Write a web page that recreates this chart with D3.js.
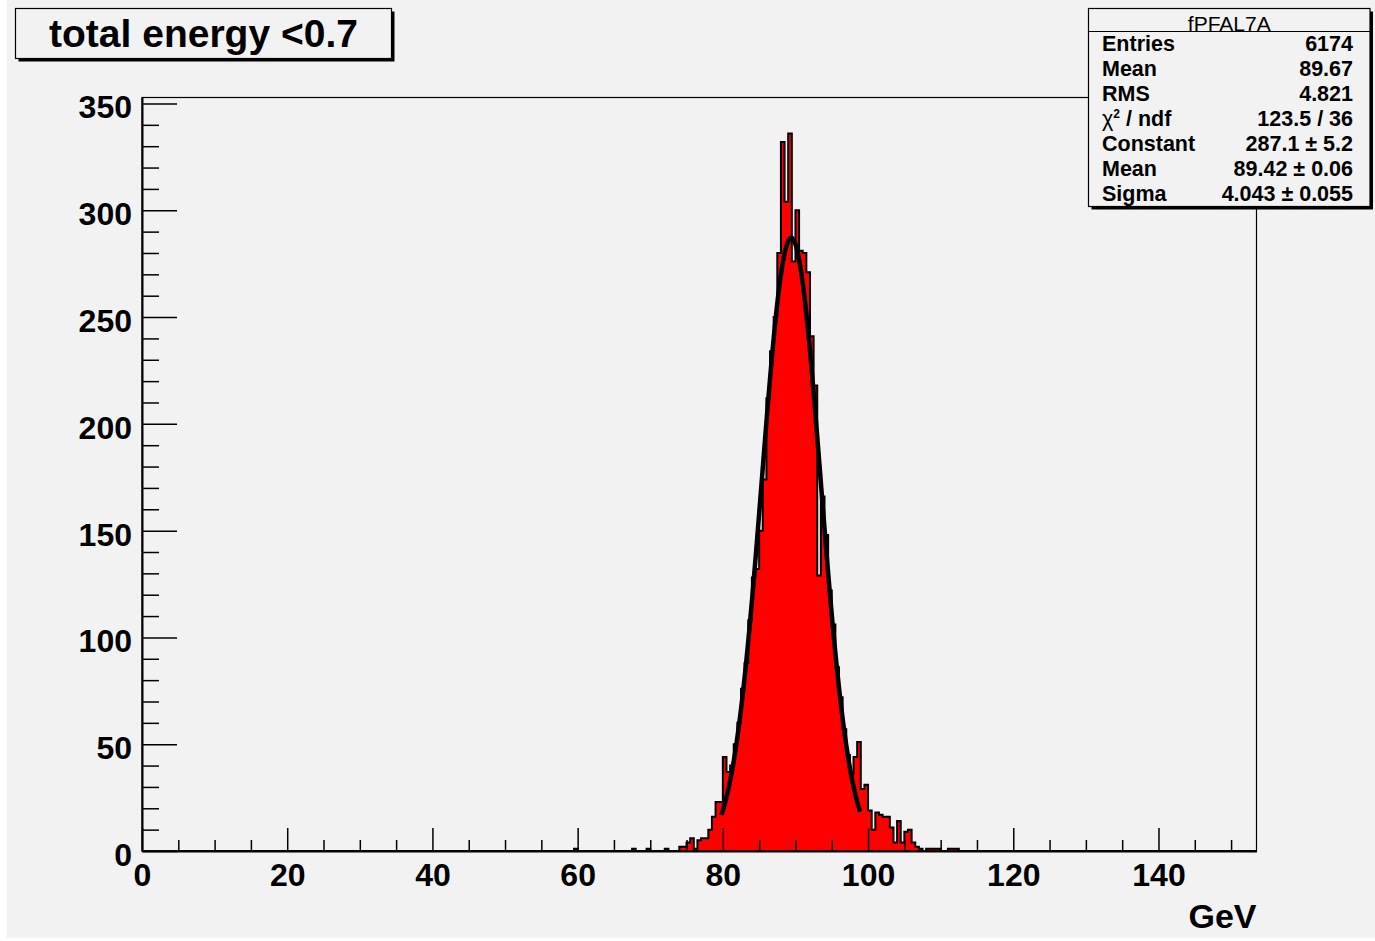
<!DOCTYPE html>
<html>
<head>
<meta charset="utf-8">
<script src="https://cdn.jsdelivr.net/npm/d3@7"></script>
<style>
  body { margin: 0; background: #ffffff; }
  text { font-family: "Liberation Sans", Arial, Helvetica, sans-serif; font-weight: bold; fill: #000; }
</style>
</head>
<body>
<svg id="chart" width="1375" height="941"></svg>
<script>
// ---------------- data ----------------
const titleText = "total energy <0.7";
const xAxisTitle = "GeV";
const xRange = [0, 153.5];
const binWidth = 0.5;
const firstBinLow = 59.5;
// bin contents for bins starting at 59.5, 60.0, 60.5, ... (width 0.5 GeV)
const counts = [
  1,                                   // 59.5
  0,0,0,0,0,0,0,0,0,0,0,0,0,0,0,       // 60.0 - 67.0
  1,                                   // 67.5
  0,0,0,                               // 68.0 - 69.0
  1,                                   // 69.5
  0,0,0,0,                             // 70.0 - 71.5
  1,                                   // 72.0
  0,0,0,                               // 72.5 - 73.5
  2,2,4,6,1,5,6,6,10,16,23,23,         // 74.0 - 79.5
  44,37,40,50,60,76,88,108,128,132,    // 80.0 - 84.5
  150,174,212,234,250,280,332,304,336,276, // 85.0 - 89.5
  300,281,280,271,241,218,129,166,148,122, // 90.0 - 94.5
  106,86,72,57,45,36,44,51,29,31,      // 95.0 - 99.5
  19,10,18,17,16,16,11,4,14,4,         // 100.0 - 104.5
  9,10,4,2,1,0,1,1,1,1,                // 105.0 - 109.5
  0,0,1,1,1                            // 110.0 - 112.0
];
const yMaxValue = 352.8;
const xMajorTicks = [0, 20, 40, 60, 80, 100, 120, 140];
const xMinorTicks = [5,10,15,25,30,35,45,50,55,65,70,75,85,90,95,105,110,115,125,130,135,145,150];
const yMajorTicks = [0, 50, 100, 150, 200, 250, 300, 350];
const yMinorTicks = [10,20,30,40,60,70,80,90,110,120,130,140,160,170,180,190,210,220,230,240,260,270,280,290,310,320,330,340];
// Gaussian fit (parameters shown in the stats box) and its range
const fitParams = { constant: 287.1, mean: 89.42, sigma: 4.043 };
const fitRange = [79.8, 98.9];
const statsTitle = "fPFAL7A";
const statsLabels = ["Entries", "Mean", "RMS", "CHI2", "Constant", "Mean", "Sigma"];
const statsValues = ["6174", "89.67", "4.821", "123.5 / 36", "287.1 \u00b1 5.2", "89.42 \u00b1 0.06", "4.043 \u00b1 0.055"];

// ---------------- layout ----------------
const W = 1375, H = 941;
const plot = { left: 142, right: 1256.5, top: 97.5, bottom: 851 };
const bg = "#f2f2f2";

const svg = d3.select("#chart");
svg.append("rect").attr("x", 7).attr("y", 0).attr("width", W - 7).attr("height", 938).attr("fill", bg);

const x = d3.scaleLinear().domain(xRange).range([plot.left, plot.right]);
const y = d3.scaleLinear().domain([0, yMaxValue]).range([plot.bottom, plot.top]);

// full bin list over the axis range
const nBins = Math.round((xRange[1] - xRange[0]) / binWidth);
const offset = Math.round((firstBinLow - xRange[0]) / binWidth);
const bins = d3.range(nBins).map(i => ({ lo: xRange[0] + i * binWidth, c: (i - offset >= 0 && i - offset < counts.length) ? counts[i - offset] : 0 }));
const stepPts = bins.concat([{ lo: xRange[1], c: bins[bins.length - 1].c }]);

// histogram fill
const area = d3.area().x(d => x(d.lo)).y0(y(0)).y1(d => y(d.c)).curve(d3.curveStepAfter);
svg.append("path").datum(stepPts).attr("d", area).attr("fill", "#ff0000");

// histogram outline
const line = d3.line().x(d => x(d.lo)).y(d => y(d.c)).curve(d3.curveStepAfter);
svg.append("path").datum(stepPts).attr("d", line).attr("fill", "none")
  .attr("stroke", "#000").attr("stroke-width", 2);

// fit curve
const gauss = v => fitParams.constant * Math.exp(-0.5 * Math.pow((v - fitParams.mean) / fitParams.sigma, 2));
const nFit = 100;
const fitPts = d3.range(nFit + 1).map(i => {
  const v = fitRange[0] + (fitRange[1] - fitRange[0]) * i / nFit;
  return [v, gauss(v)];
});
svg.append("path").datum(fitPts)
  .attr("d", d3.line().x(d => x(d[0])).y(d => y(d[1])))
  .attr("fill", "none").attr("stroke", "#000").attr("stroke-width", 4.5)
  .attr("stroke-linejoin", "round");

// frame
svg.append("rect").attr("x", plot.left).attr("y", plot.top)
  .attr("width", plot.right - plot.left).attr("height", plot.bottom - plot.top)
  .attr("fill", "none").attr("stroke", "#000").attr("stroke-width", 1.2);

// x axis
const gx = svg.append("g").attr("transform", `translate(0,${y(0)})`);
gx.call(d3.axisBottom(x).tickValues(xMajorTicks).tickSize(-23).tickSizeOuter(0).tickPadding(12).tickFormat(d3.format("d")));
const gxm = svg.append("g").attr("transform", `translate(0,${y(0)})`);
gxm.call(d3.axisBottom(x).tickValues(xMinorTicks).tickSize(-11).tickSizeOuter(0).tickFormat(""));
gxm.select(".domain").remove();

// y axis
const gy = svg.append("g").attr("transform", `translate(${x(0)},0)`);
gy.call(d3.axisLeft(y).tickValues(yMajorTicks).tickSize(-35).tickSizeOuter(0).tickPadding(10).tickFormat(d3.format("d")));
const gym = svg.append("g").attr("transform", `translate(${x(0)},0)`);
gym.call(d3.axisLeft(y).tickValues(yMinorTicks).tickSize(-17).tickSizeOuter(0).tickFormat(""));
gym.select(".domain").remove();

[gx, gy].forEach(g => {
  g.attr("font-family", null).attr("font-size", null);
  g.select(".domain").attr("stroke", "#000").attr("stroke-width", 2);
  g.selectAll("text").attr("font-size", 32).style("font-weight", "bold").attr("fill", "#000");
});
gy.selectAll("text").attr("dy", "0.45em");
[gx, gxm, gy, gym].forEach(g => g.selectAll(".tick line").attr("stroke", "#000").attr("stroke-width", 1.5));

// x axis title
svg.append("text").attr("x", plot.right).attr("y", 928).attr("text-anchor", "end")
  .attr("font-size", 34).text(xAxisTitle);

// ---------- boxes with shadows ----------
function shadowBox(x0, y0, x1, y1, s) {
  svg.append("path")
    .attr("d", `M${x0 + s},${y1} L${x1 + s},${y1} L${x1 + s},${y0 + s} L${x1},${y0 + s} L${x1},${y1} Z M${x0 + s},${y1} L${x0 + s},${y1 + s} L${x1 + s},${y1 + s} L${x1 + s},${y1} Z`)
    .attr("fill", "#000");
  svg.append("rect").attr("x", x0).attr("y", y0).attr("width", x1 - x0).attr("height", y1 - y0)
    .attr("fill", bg).attr("stroke", "#000").attr("stroke-width", 1.2);
}

// title box
shadowBox(15.5, 8.5, 391.5, 58.5, 3);
svg.append("text").attr("x", 203.5).attr("y", 46.5).attr("text-anchor", "middle")
  .attr("font-size", 39).text(titleText);

// stats box
const sb = { x0: 1088.5, y0: 8.5, x1: 1370, y1: 206.5 };
shadowBox(sb.x0, sb.y0, sb.x1, sb.y1, 3);
svg.append("line").attr("x1", sb.x0).attr("x2", sb.x1).attr("y1", 31.5).attr("y2", 31.5)
  .attr("stroke", "#000").attr("stroke-width", 1.2);
svg.append("text").attr("x", (sb.x0 + sb.x1) / 2).attr("y", 31).attr("text-anchor", "middle")
  .attr("font-size", 21).style("font-weight", "normal").text(statsTitle);

statsLabels.forEach((lab, i) => {
  const yy = 50.5 + i * 25;
  const t = svg.append("text").attr("x", 1102).attr("y", yy).attr("font-size", 21.5);
  if (lab === "CHI2") {
    t.append("tspan").style("font-weight", "normal").text("\u03c7");
    t.append("tspan").attr("font-size", 12).attr("dy", -8).text("2");
    t.append("tspan").attr("dy", 8).text(" / ndf");
  } else {
    t.text(lab);
  }
  svg.append("text").attr("x", 1353).attr("y", yy).attr("text-anchor", "end")
    .attr("font-size", 21.5).text(statsValues[i]);
});
</script>
</body>
</html>
